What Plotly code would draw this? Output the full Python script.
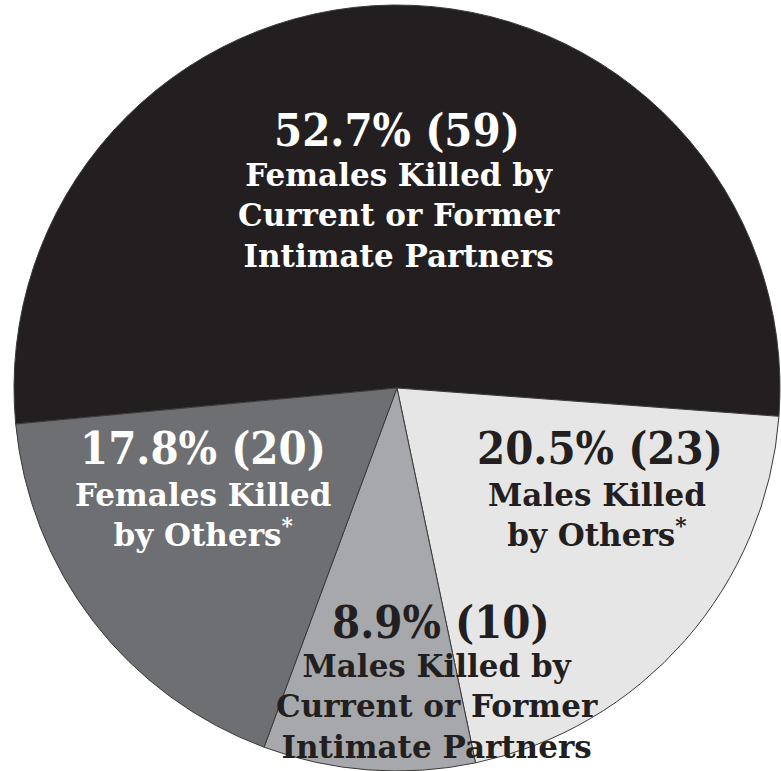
import plotly.graph_objects as go

# Data
categories = [
    "Females Killed by Current or Former Intimate Partners",
    "Males Killed by Others*",
    "Males Killed by Current or Former Intimate Partners",
    "Females Killed by Others*",
]
counts = [59, 23, 10, 20]
pct_labels = ["52.7% (59)", "20.5% (23)", "8.9% (10)", "17.8% (20)"]
star = "<sup>*</sup>"
text_labels = [
    "Females Killed by<br>Current or Former<br>Intimate Partners",
    "Males Killed<br>by Others" + star,
    "Males Killed by<br>Current or Former<br>Intimate Partners",
    "Females Killed<br>by Others" + star,
]

colors = ["#231f20", "#e6e6e7", "#a7a8ab", "#6e6f72"]
text_colors = ["#ffffff", "#231f20", "#231f20", "#ffffff"]

W, H = 781, 771

fig = go.Figure(go.Pie(
    labels=categories,
    values=counts,
    sort=False,
    direction="clockwise",
    rotation=264.6,
    marker=dict(colors=colors, line=dict(color="#3a3a3a", width=1)),
    textinfo="none",
    textposition="none",
    hoverinfo="label+value+percent",
    domain=dict(x=[14 / W, 780 / W], y=[0, 1 - 5 / H]),
    showlegend=False,
))

# label positions in pixels (center of pct line, center of label block)
pct_pos = [(397, 130), (600, 448), (441, 622), (203, 448)]
lab_pos = [(399, 215), (597, 515), (437, 706), (203, 515)]

pct_font = "DejaVu Serif Condensed, DejaVu Serif, serif"
lab_font = "DejaVu Serif, serif"

annotations = []
for i in range(len(counts)):
    px, py = pct_pos[i]
    annotations.append(dict(
        x=px / W, y=1 - py / H, xref="paper", yref="paper",
        text="<b>" + pct_labels[i] + "</b>", showarrow=False,
        xanchor="center", yanchor="middle",
        font=dict(family=pct_font, size=45, color=text_colors[i]),
    ))
    lx, ly = lab_pos[i]
    annotations.append(dict(
        x=lx / W, y=1 - ly / H, xref="paper", yref="paper",
        text="<b>" + text_labels[i] + "</b>", showarrow=False,
        xanchor="center", yanchor="middle", align="center",
        font=dict(family=lab_font, size=31, color=text_colors[i]),
    ))

fig.update_layout(
    width=W, height=H,
    margin=dict(l=0, r=0, t=0, b=0),
    paper_bgcolor="white",
    plot_bgcolor="white",
    annotations=annotations,
)

fig.write_html("out.html",
               config={"displayModeBar": False},
               post_script="document.body.style.margin='0';document.body.style.overflow='hidden';")
